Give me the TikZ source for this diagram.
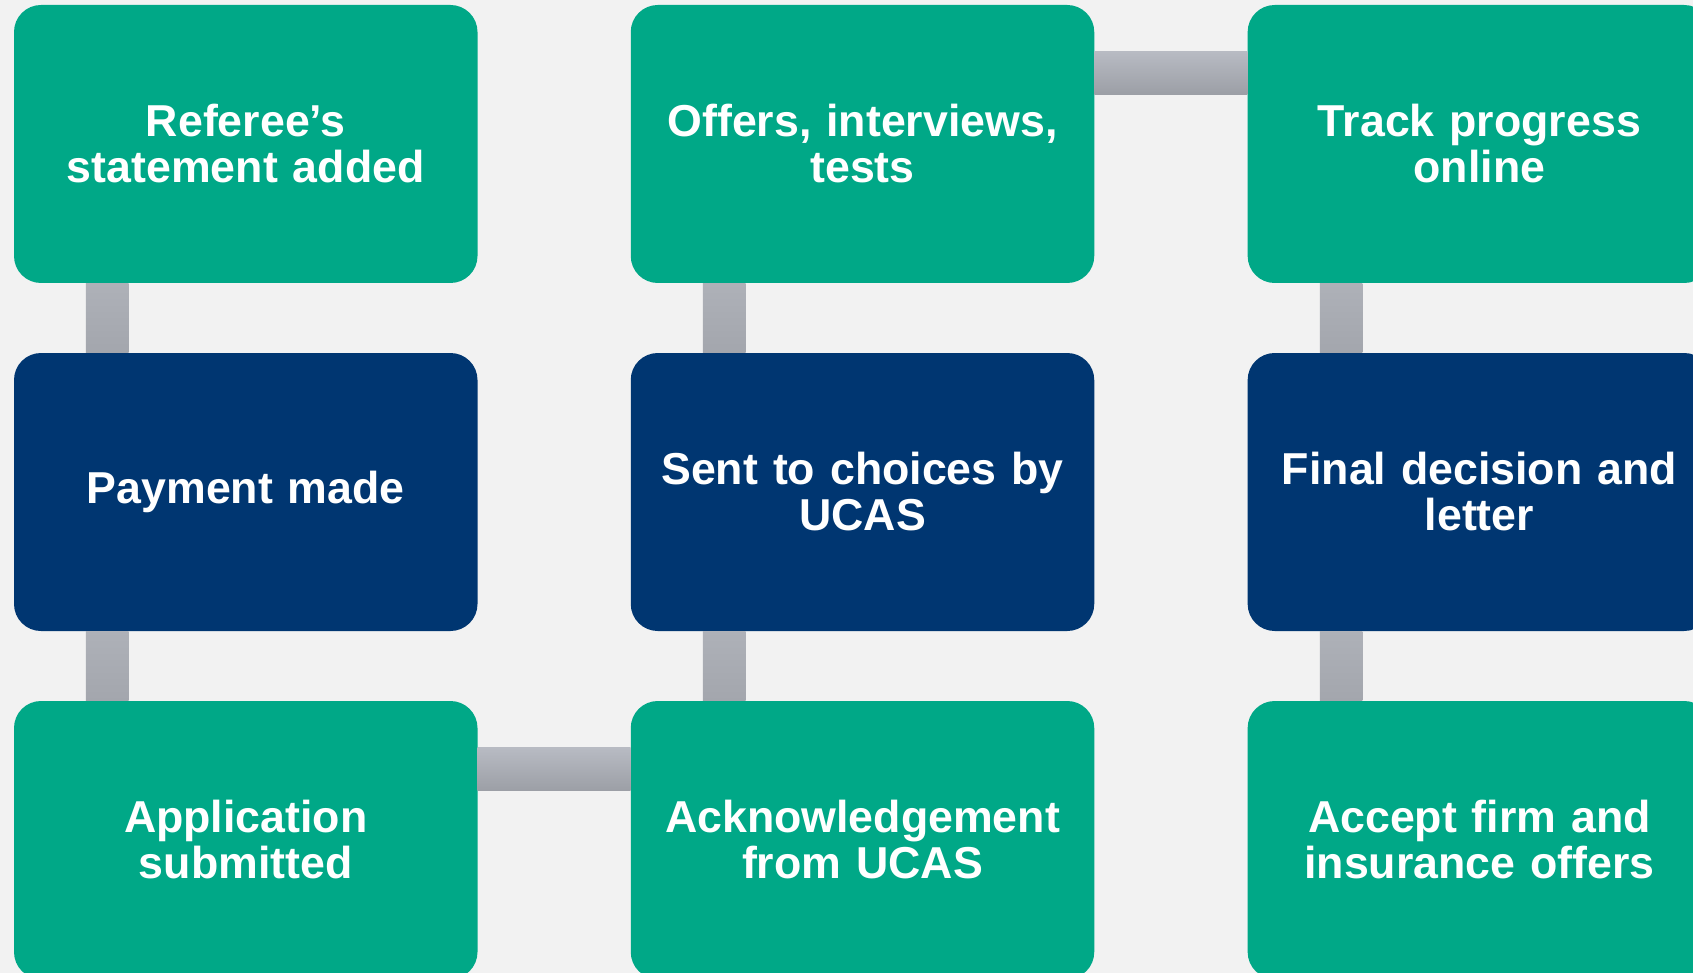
\documentclass[tikz,border=0pt]{standalone}
\usepackage{fontspec}
\setmainfont{Liberation Sans}
\usetikzlibrary{calc}
\definecolor{bgc}{HTML}{F2F2F2}
\definecolor{greenbox}{HTML}{00A887}
\definecolor{navybox}{HTML}{003671}
\definecolor{bartop}{HTML}{B8BBC3}
\definecolor{barbot}{HTML}{9C9FA6}
\definecolor{vbartop}{HTML}{AEB1B8}
\definecolor{vbarbot}{HTML}{A3A6AD}
\tikzset{
  card/.style={rounded corners=27pt, minimum width=463.5pt, minimum height=278pt,
    inner sep=0pt, text width=450pt, align=center, text=white,
    font=\fontsize{44.7}{46}\selectfont\bfseries},
  gcard/.style={card, fill=greenbox},
  ncard/.style={card, fill=navybox},
  hbar/.style={top color=bartop, bottom color=barbot},
  vbar/.style={top color=vbartop, bottom color=vbarbot}
}
\begin{document}
\begin{tikzpicture}[x=1pt,y=-1pt]
\useasboundingbox (0,0) rectangle (1693,973);
\clip (0,0) rectangle (1693,973);
\fill[bgc] (0,0) rectangle (1693,973);
% nodes
\node[gcard] (ref) at (245.75,144) {Referee’s\\statement added};
\node[ncard] (pay) at (245.75,492) {Payment made};
\node[gcard] (app) at (245.75,840) {Application\\submitted};
\node[gcard] (off) at (862.5,144) {Offers, interviews,\\tests};
\node[ncard] (sent) at (862.5,492) {Sent to choices by\\UCAS};
\node[gcard] (ack) at (862.5,840) {Acknowledgement\\from UCAS};
\node[gcard] (trk) at (1479.4,144) {Track progress\\online};
\node[ncard] (fin) at (1479.4,492) {Final decision and\\letter};
\node[gcard] (acc) at (1479.4,840) {Accept firm and\\insurance offers};
% connectors
\shade[vbar] ($(ref.south west)+(72,0)$) rectangle ($(pay.north west)+(114.7,0)$);
\shade[vbar] ($(pay.south west)+(72,0)$) rectangle ($(app.north west)+(114.7,0)$);
\shade[hbar] ($(app.north east)+(0,46.7)$) rectangle ($(ack.north west)+(0,89.7)$);
\shade[vbar] ($(sent.south west)+(72.3,0)$) rectangle ($(ack.north west)+(115,0)$);
\shade[vbar] ($(off.south west)+(72.3,0)$) rectangle ($(sent.north west)+(115,0)$);
\shade[hbar] ($(off.north east)+(0,46.7)$) rectangle ($(trk.north west)+(0,89.3)$);
\shade[vbar] ($(trk.south west)+(72.3,0)$) rectangle ($(fin.north west)+(115,0)$);
\shade[vbar] ($(fin.south west)+(72.3,0)$) rectangle ($(acc.north west)+(115,0)$);
\end{tikzpicture}
\end{document}
